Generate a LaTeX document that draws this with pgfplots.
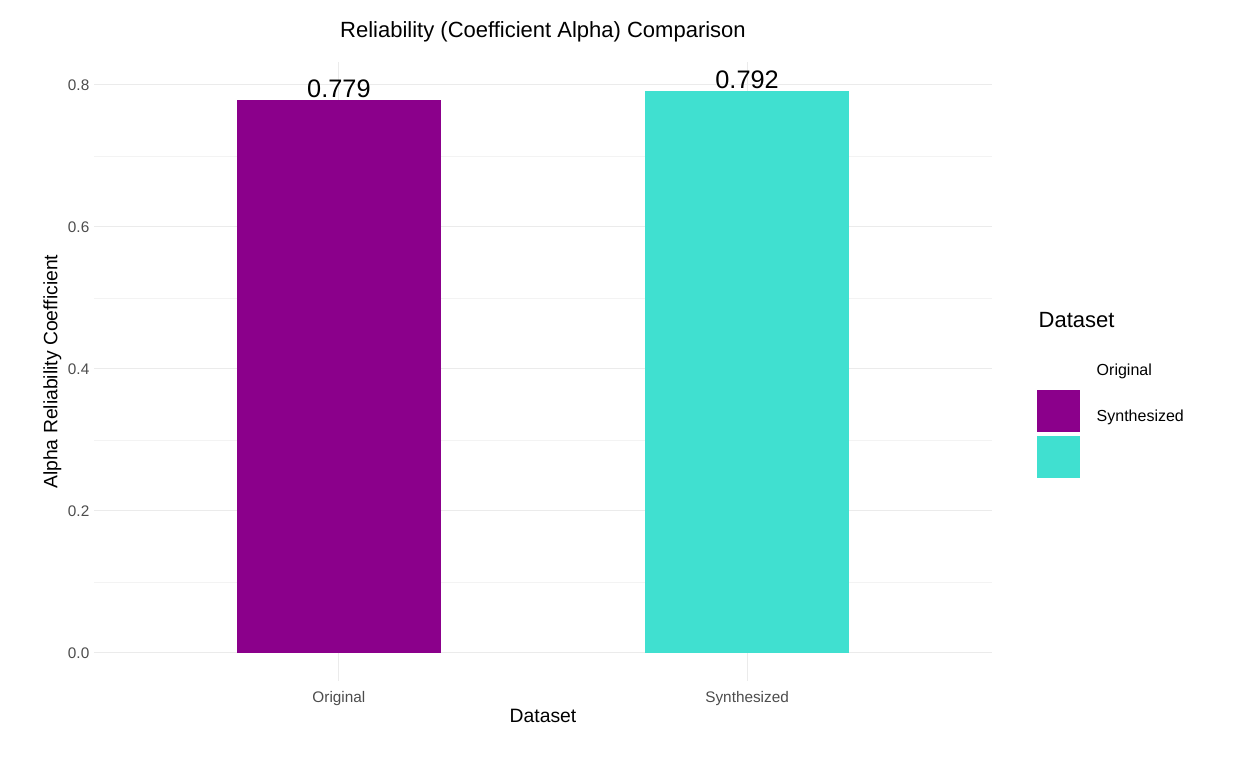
\documentclass[border=0pt]{standalone}
\usepackage{pgfplots}
\pgfplotsset{compat=1.18}
\usepackage{fontspec}
\setmainfont{Liberation Sans}
\definecolor{orig}{HTML}{8B008B}
\definecolor{syn}{HTML}{40E0D0}
\definecolor{gridc}{HTML}{EBEBEB}
\begin{document}
\begin{tikzpicture}
\path[use as bounding box] (0,0) rectangle (936pt,576pt);
\begin{axis}[
  at={(70.5pt,65.25pt)}, anchor=south west,
  scale only axis, width=673.5pt, height=463.9pt,
  xmin=0.4, xmax=2.6, ymin=-0.0396, ymax=0.8316,
  axis line style={draw=none}, tick style={draw=none},
  xtick={1,2}, xticklabels={Original,Synthesized},
  ytick={0,0.2,0.4,0.6,0.8}, minor ytick={0.1,0.3,0.5,0.7},
  yticklabel style={/pgf/number format/fixed,/pgf/number format/fixed zerofill,/pgf/number format/precision=1},
  /pgf/number format/assume math mode=true,
  ticklabel style={font=\fontsize{11.5}{12}\selectfont, text=black!70},
  grid=both, major grid style={gridc, line width=0.8pt}, minor grid style={gridc!60, line width=0.5pt},
  xlabel={Dataset}, ylabel={Alpha Reliability Coefficient},
  label style={font=\fontsize{14.5}{16}\selectfont},
  xlabel style={yshift=4pt}, ylabel style={yshift=-2pt},
  title={Reliability (Coefficient Alpha) Comparison},
  title style={font=\fontsize{16.5}{18}\selectfont, yshift=6pt},
  ybar, bar width=153pt, bar shift=0pt,
  nodes near coords, nodes near coords style={font=\fontsize{19}{20}\selectfont, text=black, /pgf/number format/fixed, /pgf/number format/precision=3, yshift=-2pt},
]
\addplot[fill=orig, draw=none] coordinates {(1,0.779)};
\addplot[fill=syn, draw=none] coordinates {(2,0.792)};
\end{axis}
\node[anchor=west, font=\fontsize{16.5}{18}\selectfont] at (775.5pt,336pt) {Dataset};
\fill[orig] (777.75pt,283.5pt) rectangle (810pt,252pt);
\fill[syn] (777.75pt,249pt) rectangle (810pt,217.5pt);
\node[anchor=west, font=\fontsize{12}{14}\selectfont] at (819pt,297.75pt) {Original};
\node[anchor=west, font=\fontsize{12}{14}\selectfont] at (819pt,263.25pt) {Synthesized};
\end{tikzpicture}
\end{document}
